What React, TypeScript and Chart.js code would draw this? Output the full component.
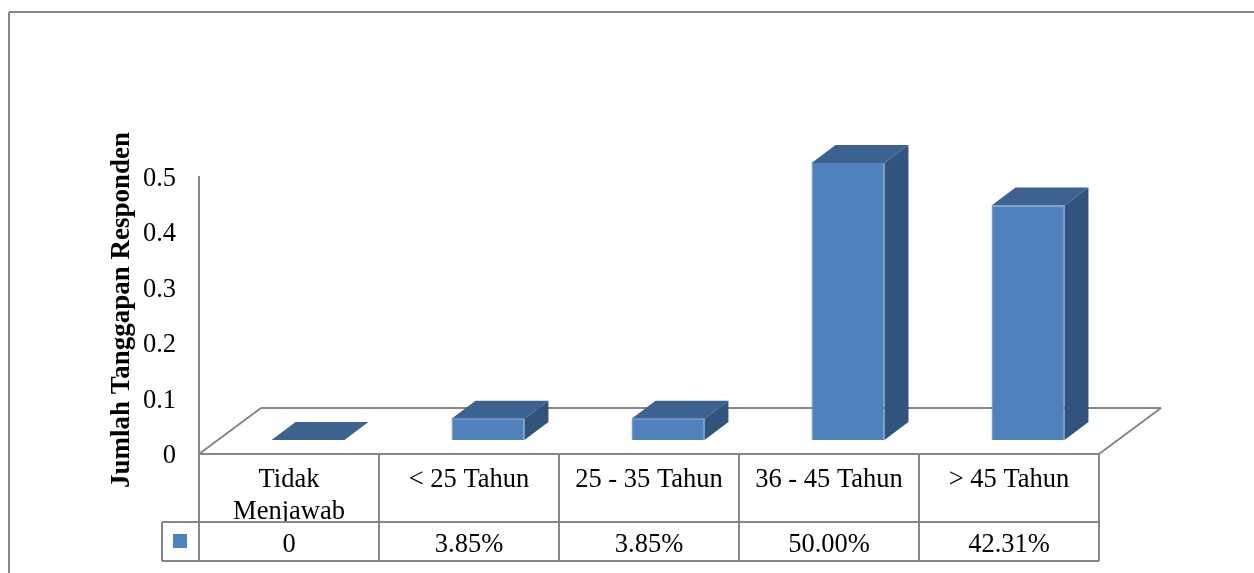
import React, { useEffect, useRef } from "react";
import { Chart, registerables } from "chart.js";

Chart.register(...registerables);

const categories: (string | string[])[] = [["Tidak", "Menjawab"], "< 25 Tahun", "25 - 35 Tahun", "36 - 45 Tahun", "> 45 Tahun"];
const seriesValues = [0, 0.0385, 0.0385, 0.5, 0.4231];
const tableLabels = ["0", "3.85%", "3.85%", "50.00%", "42.31%"];
const axisTitle = "Jumlah Tanggapan Responden";

const FONT = '"Liberation Serif", serif';
const LINE = "#868686";
const FRONT = "#4f81bd";
const TOP = "#3c6290";
const SIDE = "#31547c";
const FLOOR_DX = 62;
const FLOOR_DY = 46;
const BAR_SHIFT_X = 19;
const BAR_SHIFT_Y = 14;
const DEPTH_X = 24;
const DEPTH_Y = 18;

const poly = (ctx: CanvasRenderingContext2D, pts: number[][], fill: string) => {
  ctx.beginPath();
  pts.forEach(([x, y], i) => (i ? ctx.lineTo(x, y) : ctx.moveTo(x, y)));
  ctx.closePath();
  ctx.fillStyle = fill;
  ctx.fill();
};

const seg = (ctx: CanvasRenderingContext2D, x1: number, y1: number, x2: number, y2: number, w = 2) => {
  ctx.beginPath();
  ctx.moveTo(x1, y1);
  ctx.lineTo(x2, y2);
  ctx.lineWidth = w;
  ctx.strokeStyle = LINE;
  ctx.stroke();
};

const bar3d = {
  id: "bar3d",
  beforeDraw(chart: any) {
    const { ctx, chartArea: a } = chart;
    ctx.save();
    // outer frame
    seg(ctx, 9, 12, 1254, 12, 2);
    seg(ctx, 9, 12, 9, 573, 2);
    // floor and wall
    seg(ctx, a.left, a.top - 1, a.left, a.bottom);
    seg(ctx, a.left, a.bottom, a.left + FLOOR_DX, a.bottom - FLOOR_DY);
    seg(ctx, a.left + FLOOR_DX, a.bottom - FLOOR_DY, a.right + FLOOR_DX, a.bottom - FLOOR_DY);
    seg(ctx, a.right + FLOOR_DX, a.bottom - FLOOR_DY, a.right, a.bottom);
    // axis title
    ctx.translate(122, 310);
    ctx.rotate(-Math.PI / 2);
    ctx.font = `bold 27px ${FONT}`;
    ctx.fillStyle = "#000";
    ctx.textAlign = "center";
    ctx.textBaseline = "middle";
    ctx.fillText(axisTitle, 0, 0);
    ctx.restore();
  },
  beforeDatasetsDraw(chart: any) {
    const ctx = chart.ctx;
    const meta = chart.getDatasetMeta(0);
    ctx.save();
    ctx.translate(BAR_SHIFT_X, -BAR_SHIFT_Y);
    meta.data.forEach((bar: any) => {
      const l = bar.x - bar.width / 2;
      const r = bar.x + bar.width / 2;
      const t = bar.y;
      const b = bar.base;
      poly(ctx, [[l, t], [r, t], [r + DEPTH_X, t - DEPTH_Y], [l + DEPTH_X, t - DEPTH_Y]], TOP);
      if (b - t > 0.5) {
        poly(ctx, [[r, t], [r + DEPTH_X, t - DEPTH_Y], [r + DEPTH_X, b - DEPTH_Y], [r, b]], SIDE);
      }
    });
  },
  afterDatasetsDraw(chart: any) {
    chart.ctx.restore();
  },
  afterDraw(chart: any) {
    const { ctx, chartArea: a, scales } = chart;
    const x = scales.x;
    const rowTop = 522;
    const rowBottom = 561;
    const keyLeft = 162;
    ctx.save();
    // mask the label descenders that overflow the category row
    ctx.fillStyle = "#fff";
    ctx.fillRect(a.left + 1, rowTop, a.right - a.left - 2, rowBottom - rowTop);
    seg(ctx, a.left, a.bottom, a.right, a.bottom);
    seg(ctx, keyLeft, rowTop, a.right, rowTop);
    seg(ctx, keyLeft, rowBottom, a.right, rowBottom);
    seg(ctx, keyLeft, rowTop, keyLeft, rowBottom);
    const n = categories.length;
    const step = (a.right - a.left) / n;
    for (let i = 0; i <= n; i++) {
      const px = a.left + i * step;
      seg(ctx, px, a.bottom, px, rowBottom);
    }
    ctx.fillStyle = FRONT;
    ctx.fillRect(173, 534, 14, 14);
    ctx.font = `26.5px ${FONT}`;
    ctx.fillStyle = "#000";
    ctx.textAlign = "center";
    ctx.textBaseline = "middle";
    tableLabels.forEach((t, i) => ctx.fillText(t, x.getPixelForTick(i), 545));
    ctx.restore();
  },
};

export default function App() {
  const ref = useRef<HTMLCanvasElement>(null);
  useEffect(() => {
    const chart = new Chart(ref.current!, {
      type: "bar",
      data: {
        labels: categories as any,
        datasets: [
          {
            data: seriesValues,
            backgroundColor: FRONT,
            borderColor: "#5a88c0",
            borderWidth: 1,
            barPercentage: 0.405,
            categoryPercentage: 1,
            clip: false as any,
          },
        ],
      },
      options: {
        animation: false,
        responsive: false,
        devicePixelRatio: 1,
        layout: { padding: { left: 0, top: 177, right: 155, bottom: 0 } },
        plugins: { legend: { display: false }, tooltip: { enabled: false }, title: { display: false } },
        scales: {
          x: {
            grid: { display: false, drawTicks: false },
            border: { display: false },
            afterFit: (s: any) => {
              s.height = 119;
            },
            ticks: {
              color: "#000",
              font: { family: FONT, size: 26.5, lineHeight: 1.2 },
              padding: 10,
              autoSkip: false,
              maxRotation: 0,
              minRotation: 0,
            },
          },
          y: {
            min: 0,
            max: 0.5,
            grid: { display: false, drawTicks: false },
            border: { display: false },
            afterFit: (s: any) => {
              s.width = 199;
            },
            ticks: {
              stepSize: 0.1,
              color: "#000",
              font: { family: FONT, size: 26.5 },
              padding: 23,
              labelOffset: 2,
            },
          },
        },
      },
      plugins: [bar3d as any],
    });
    return () => chart.destroy();
  }, []);
  return (
    <div style={{ position: "absolute", left: 0, top: 0, width: 1254, height: 573, background: "#fff", overflow: "hidden" }}>
      <canvas ref={ref} width={1254} height={573} style={{ display: "block" }} />
    </div>
  );
}
